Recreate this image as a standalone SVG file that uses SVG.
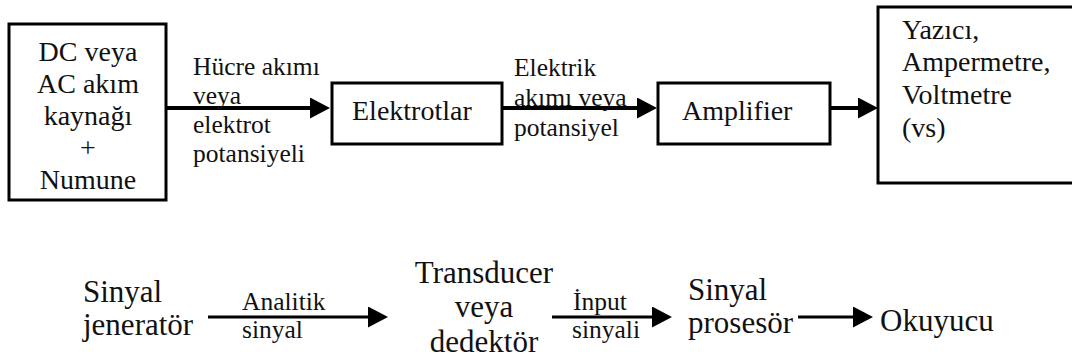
<svg xmlns="http://www.w3.org/2000/svg" width="1072" height="363" viewBox="0 0 1072 363">
  <style>
    text { font-family: "Liberation Serif", "Times New Roman", Tinos, "Noto Serif", "DejaVu Serif", serif; fill: #111; }
    .box { fill: #fff; stroke: #000; stroke-width: 3; }
    .node { font-size: 28px; }
    .big { font-size: 31px; }
    .lbl { font-size: 25.5px; }
    .wire { stroke: #000; stroke-width: 4; fill: none; }
    .wire2 { stroke: #000; stroke-width: 3; fill: none; }
  </style>
  <defs>
    <marker id="head" markerUnits="userSpaceOnUse" markerWidth="20" markerHeight="22" refX="2" refY="10.5" orient="auto">
      <path d="M0,0 L20,10.5 L0,21 z" fill="#000"/>
    </marker>
  </defs>
  <rect width="1072" height="363" fill="#fff"/>

  <!-- connectors -->
  <g id="connectors">
    <line class="wire" x1="167" y1="108" x2="312" y2="108" marker-end="url(#head)"/>
    <line class="wire" x1="502" y1="108" x2="639" y2="108" marker-end="url(#head)"/>
    <line class="wire" x1="830" y1="108" x2="860" y2="108" marker-end="url(#head)"/>
    <line class="wire2" x1="208" y1="317" x2="370" y2="317" marker-end="url(#head)"/>
    <line class="wire2" x1="552" y1="317" x2="654" y2="317" marker-end="url(#head)"/>
    <line class="wire2" x1="798" y1="317" x2="855" y2="317" marker-end="url(#head)"/>
  </g>

  <!-- connector labels -->
  <g id="labels">
    <text class="lbl" font-family="Liberation Serif, serif"><tspan x="193" y="75">Hücre akımı</tspan><tspan x="193" y="104">veya</tspan><tspan x="193" y="133">elektrot</tspan><tspan x="193" y="162">potansiyeli</tspan></text>
    <text class="lbl"><tspan x="514" y="76">Elektrik</tspan><tspan x="514" y="106">akımı veya</tspan><tspan x="514" y="136">potansiyel</tspan></text>
    <text class="lbl"><tspan x="242" y="310">Analitik</tspan><tspan x="242" y="338">sinyal</tspan></text>
    <text class="lbl"><tspan x="573" y="310">İnput</tspan><tspan x="572" y="338">sinyali</tspan></text>
  </g>

  <!-- top row -->
  <g id="source">
    <rect class="box" x="9" y="24" width="157" height="176"/>
    <text class="node" text-anchor="middle"><tspan x="88" y="61">DC veya</tspan><tspan x="88" y="93">AC akım</tspan><tspan x="88" y="125">kaynağı</tspan><tspan x="88" y="157">+</tspan><tspan x="88" y="189">Numune</tspan></text>
  </g>
  <g id="electrodes">
    <rect class="box" x="332" y="83" width="170" height="61"/>
    <text class="node" x="352" y="120">Elektrotlar</text>
  </g>
  <g id="amplifier">
    <rect class="box" x="658" y="83" width="172" height="61"/>
    <text class="node" x="682" y="120">Amplifier</text>
  </g>
  <g id="readout">
    <rect class="box" x="878" y="7" width="200" height="176"/>
    <text class="node"><tspan x="902" y="39">Yazıcı,</tspan><tspan x="902" y="71">Ampermetre,</tspan><tspan x="902" y="104">Voltmetre</tspan><tspan x="902" y="137">(vs)</tspan></text>
  </g>

  <!-- bottom row -->
  <g id="generator">
    <text class="big"><tspan x="83" y="302">Sinyal</tspan><tspan x="83" y="335">jeneratör</tspan></text>
  </g>
  <g id="transducer">
    <text class="big" text-anchor="middle"><tspan x="484" y="283">Transducer</tspan><tspan x="484" y="317">veya</tspan><tspan x="484" y="352">dedektör</tspan></text>
  </g>
  <g id="processor">
    <text class="big"><tspan x="688" y="300">Sinyal</tspan><tspan x="688" y="333">prosesör</tspan></text>
  </g>
  <g id="reader">
    <text class="big" x="880" y="331">Okuyucu</text>
  </g>
</svg>
